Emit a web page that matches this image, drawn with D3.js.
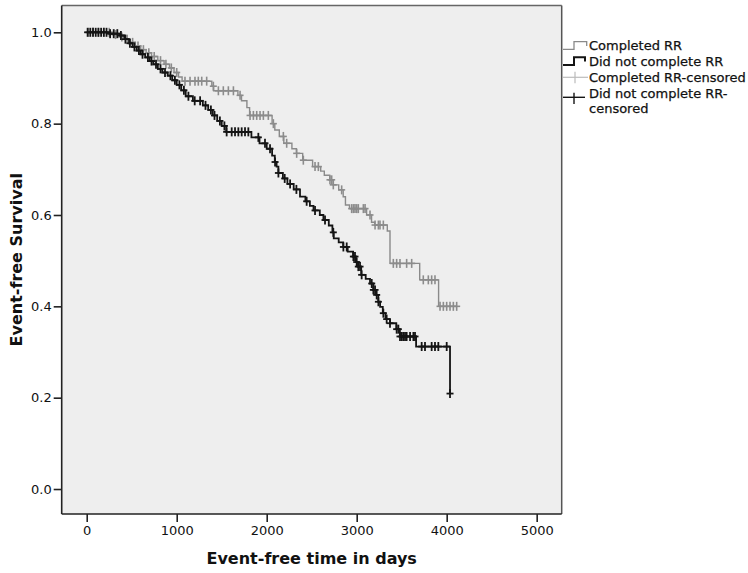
<!DOCTYPE html>
<html>
<head>
<meta charset="utf-8">
<script src="https://cdn.jsdelivr.net/npm/d3@7"></script>
<style>
  html, body { margin: 0; padding: 0; background: #ffffff; }
  svg { display: block; }
  text { font-family: "DejaVu Sans", Verdana, sans-serif; }
</style>
</head>
<body>
<svg id="chart" width="748" height="573"></svg>
<script>
// ---------------- DATA ----------------
const seriesNames = ["Completed RR", "Did not complete RR"];
const legendLabels = ["Completed RR", "Did not complete RR", "Completed RR-censored", "Did not complete RR-censored"];
const xTicks = [0, 1000, 2000, 3000, 4000, 5000];
const yTicks = [0.0, 0.2, 0.4, 0.6, 0.8, 1.0];

// Completed RR: event steps [time in days, survival after step]
const completedSteps = [
  [0, 1.0], [280, 0.995], [360, 0.99], [420, 0.985], [480, 0.978], [540, 0.97], [600, 0.962],
  [660, 0.955], [720, 0.947], [790, 0.938], [860, 0.93], [920, 0.922], [970, 0.912],
  [1020, 0.902], [1060, 0.893], [1390, 0.882], [1410, 0.872], [1680, 0.862], [1720, 0.85],
  [1780, 0.835], [1810, 0.818], [2060, 0.80], [2090, 0.786], [2140, 0.772], [2190, 0.757],
  [2280, 0.745], [2330, 0.735], [2400, 0.72], [2510, 0.706], [2600, 0.696], [2640, 0.687],
  [2700, 0.677], [2740, 0.666], [2800, 0.655], [2850, 0.64], [2875, 0.622], [2920, 0.614],
  [3110, 0.600], [3165, 0.584], [3200, 0.578], [3340, 0.565], [3370, 0.494], [3700, 0.458],
  [3910, 0.40]
];
const completedEnd = 4111;
const completedCensored = [
  20, 70, 130, 190, 250, 320, 390, 450, 510, 570, 630, 690, 750, 820, 880, 940, 1000,
  1092, 1148, 1203, 1240, 1278, 1333, 1407, 1463, 1518, 1574, 1630, 1704,
  1815, 1852, 1889, 1926, 1963, 2018, 2074, 2185, 2222, 2333, 2407, 2537, 2574,
  2703, 2722, 2740, 2833, 2944, 2963, 2981, 3000, 3018, 3074, 3093, 3148,
  3204, 3241, 3259, 3296, 3407, 3444, 3481, 3555, 3611, 3740, 3796, 3833, 3870,
  3926, 3963, 4000, 4037, 4074, 4111
];

// Did not complete RR: event steps
const notCompletedSteps = [
  [0, 1.0], [250, 0.997], [370, 0.993], [420, 0.985], [470, 0.976], [510, 0.968], [555, 0.96],
  [600, 0.952], [650, 0.945], [700, 0.937], [740, 0.93], [790, 0.92], [840, 0.912], [900, 0.905],
  [950, 0.895], [1000, 0.885], [1050, 0.873], [1100, 0.86], [1180, 0.85], [1290, 0.84],
  [1350, 0.83], [1400, 0.818], [1450, 0.806], [1500, 0.795], [1550, 0.782], [1830, 0.77],
  [1920, 0.757], [2000, 0.745], [2060, 0.73], [2090, 0.716], [2110, 0.706], [2130, 0.692],
  [2180, 0.68], [2230, 0.668], [2300, 0.656], [2370, 0.64], [2430, 0.63], [2480, 0.62],
  [2520, 0.61], [2590, 0.60], [2630, 0.589], [2690, 0.577], [2730, 0.562], [2745, 0.549],
  [2800, 0.54], [2850, 0.53], [2900, 0.52], [2960, 0.509], [2990, 0.497], [3015, 0.487],
  [3050, 0.469], [3100, 0.46], [3148, 0.45], [3185, 0.436], [3215, 0.425], [3240, 0.41],
  [3260, 0.399], [3290, 0.385], [3320, 0.372], [3370, 0.363], [3440, 0.35], [3480, 0.334],
  [3660, 0.312], [4037, 0.209]
];
const notCompletedEnd = 4037;
const notCompletedCensored = [
  10, 40, 70, 100, 130, 160, 190, 220, 260, 300, 340, 380, 430, 480, 530, 580, 620, 680,
  720, 770, 820, 870, 930, 980, 1030, 1080, 1130, 1200, 1260, 1320, 1380, 1420, 1480, 1530,
  1555, 1611, 1648, 1685, 1722, 1759, 1796, 1907, 1981, 2037, 2093, 2130, 2200, 2260, 2330,
  2444, 2537, 2648, 2740, 2852, 2889, 2963, 2981, 3000, 3018, 3037, 3055,
  3167, 3185, 3204, 3222, 3241, 3296, 3333, 3370, 3444, 3463, 3481, 3500, 3518, 3537,
  3555, 3593, 3630, 3648, 3722, 3759, 3833, 3870, 3907, 4000, 4037
];

// ---------------- DRAW ----------------
const svg = d3.select("#chart");
const plot = { left: 61.7, right: 561.7, top: 5.5, bottom: 514 };

const x = d3.scaleLinear().domain([-278, 5278]).range([plot.left, plot.right]);
const y = d3.scaleLinear().domain([-0.0547, 1.0587]).range([plot.bottom, plot.top]);

const grayLine = "#8a8a8a", grayMark = "#8c8c8c", blackLine = "#141414";

svg.append("rect")
  .attr("x", plot.left).attr("y", plot.top)
  .attr("width", plot.right - plot.left).attr("height", plot.bottom - plot.top)
  .attr("fill", "#eeeeee");

function stepValue(steps, t) {
  let v = steps[0][1];
  for (const s of steps) { if (s[0] <= t) v = s[1]; else break; }
  return v;
}

const line = d3.line().x(d => x(d[0])).y(d => y(d[1])).curve(d3.curveStepAfter);

function drawSeries(steps, endT, censored, lineColor, markColor, lw, mw) {
  const pts = steps.slice();
  const last = pts[pts.length - 1];
  if (last[0] < endT) pts.push([endT, last[1]]);
  svg.append("path").datum(pts)
    .attr("d", line).attr("fill", "none")
    .attr("stroke", lineColor).attr("stroke-width", lw);
  const g = svg.append("g").attr("stroke", markColor).attr("stroke-width", mw);
  censored.forEach(t => {
    const cx = x(t), cy = y(stepValue(steps, t));
    g.append("line").attr("x1", cx).attr("x2", cx).attr("y1", cy - 4.5).attr("y2", cy + 4.5);
    g.append("line").attr("x1", cx - 3.5).attr("x2", cx + 3.5).attr("y1", cy).attr("y2", cy);
  });
}

drawSeries(completedSteps, completedEnd, completedCensored, grayLine, grayMark, 1.4, 1.6);
drawSeries(notCompletedSteps, notCompletedEnd, notCompletedCensored, blackLine, blackLine, 1.8, 1.8);

// Frame
svg.append("line").attr("x1", plot.left).attr("x2", plot.right).attr("y1", plot.top).attr("y2", plot.top)
  .attr("stroke", "#666").attr("stroke-width", 1.5);
svg.append("line").attr("x1", plot.right).attr("x2", plot.right).attr("y1", plot.top).attr("y2", plot.bottom)
  .attr("stroke", "#555").attr("stroke-width", 1.5);
svg.append("line").attr("x1", plot.left).attr("x2", plot.left).attr("y1", plot.top).attr("y2", plot.bottom)
  .attr("stroke", "#222").attr("stroke-width", 1.6);
svg.append("line").attr("x1", plot.left).attr("x2", plot.right).attr("y1", plot.bottom).attr("y2", plot.bottom)
  .attr("stroke", "#222").attr("stroke-width", 1.6);

// Axes
const yAxis = svg.append("g").attr("transform", `translate(${plot.left},0)`)
  .call(d3.axisLeft(y).tickValues(yTicks).tickFormat(d3.format(".1f")).tickSize(8).tickPadding(2));
const xAxis = svg.append("g").attr("transform", `translate(0,${plot.bottom})`)
  .call(d3.axisBottom(x).tickValues(xTicks).tickFormat(d3.format("d")).tickSize(8).tickPadding(4));
[yAxis, xAxis].forEach(a => {
  a.select(".domain").remove();
  a.selectAll(".tick line").attr("stroke", "#222").attr("stroke-width", 1.6);
  a.selectAll(".tick text").attr("font-family", "DejaVu Sans, sans-serif")
    .attr("font-size", 13).attr("fill", "#111");
});

// Axis titles
svg.append("text")
  .attr("x", (plot.left + plot.right) / 2).attr("y", 564)
  .attr("text-anchor", "middle").attr("font-size", 16).attr("font-weight", "bold").attr("fill", "#111")
  .text("Event-free time in days");
svg.append("text")
  .attr("transform", `translate(22,${(plot.top + plot.bottom) / 2}) rotate(-90)`)
  .attr("text-anchor", "middle").attr("font-size", 16).attr("font-weight", "bold").attr("fill", "#111")
  .text("Event-free Survival");

// Legend
const lg = svg.append("g");
lg.append("path").attr("d", "M563,49.3H574V41.7H586.7V46").attr("fill", "none")
  .attr("stroke", grayLine).attr("stroke-width", 1.3);
lg.append("path").attr("d", "M563,65H574V57.3H585V61.5").attr("fill", "none")
  .attr("stroke", blackLine).attr("stroke-width", 2);
lg.append("line").attr("x1", 563).attr("x2", 588).attr("y1", 77.3).attr("y2", 77.3)
  .attr("stroke", "#bbbbbb").attr("stroke-width", 1.2);
lg.append("line").attr("x1", 575).attr("x2", 575).attr("y1", 71.7).attr("y2", 83.3)
  .attr("stroke", "#bbbbbb").attr("stroke-width", 1.2);
lg.append("line").attr("x1", 563).attr("x2", 585).attr("y1", 97.3).attr("y2", 97.3)
  .attr("stroke", blackLine).attr("stroke-width", 1.4);
lg.append("line").attr("x1", 574).attr("x2", 574).attr("y1", 92.7).attr("y2", 104)
  .attr("stroke", blackLine).attr("stroke-width", 1.4);

const legendText = [
  { lines: [legendLabels[0]], y: 50 },
  { lines: [legendLabels[1]], y: 66.4 },
  { lines: [legendLabels[2]], y: 82 },
  { lines: ["Did not complete RR-", "censored"], y: 97.5 }
];
legendText.forEach(d => {
  const t = lg.append("text").attr("x", 589).attr("y", d.y).attr("font-size", 13)
    .attr("fill", "#111").attr("stroke", "#111").attr("stroke-width", 0.25);
  d.lines.forEach((s, i) => {
    t.append("tspan").attr("x", 589).attr("dy", i === 0 ? 0 : 15.3).text(s);
  });
});
</script>
</body>
</html>
